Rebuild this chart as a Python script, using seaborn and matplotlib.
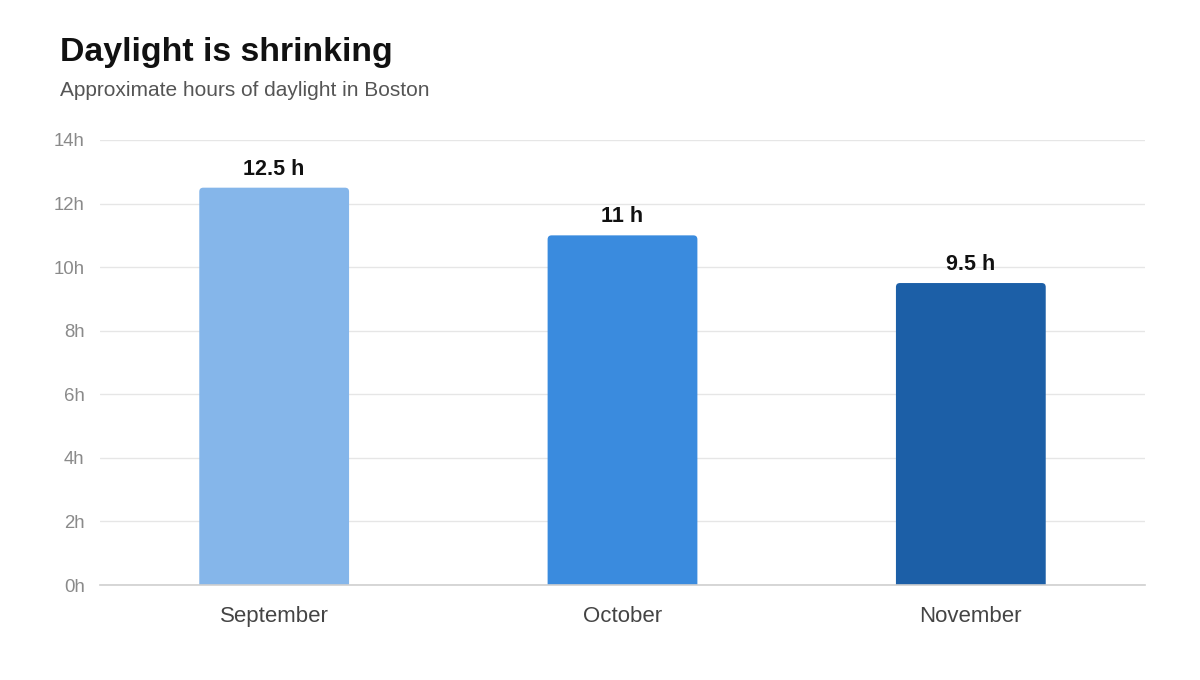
import numpy as np
import pandas as pd
import matplotlib
matplotlib.use("Agg")
import matplotlib.pyplot as plt
import seaborn as sns
from matplotlib.patches import FancyBboxPatch

# hours of daylight in Boston
months = ["September", "October", "November"]
hours = [12.5, 11, 9.5]
value_labels = ["12.5 h", "11 h", "9.5 h"]
bar_colors = ["#85b6ea", "#3a8bde", "#1c5fa7"]
y_ticks = [0, 2, 4, 6, 8, 10, 12, 14]
y_tick_labels = [f"{t}h" for t in y_ticks]

sns.set_theme(style="white")
plt.rcParams["font.family"] = ["Liberation Sans", "DejaVu Sans"]

df = pd.DataFrame({"month": months, "hours": hours})

fig = plt.figure(figsize=(12, 6.8), dpi=100)
ax = fig.add_axes([100 / 1200, 95 / 680, 1045 / 1200, 445 / 680])

sns.barplot(data=df, x="month", y="hours", hue="month", palette=bar_colors,
            saturation=1, width=0.43, legend=False, ax=ax, zorder=3)

ax.set_ylim(0, 14)
ax.set_xlim(-0.5, 2.5)

# swap the plain rectangles for ones with slightly rounded tops
px_x = 1045 / 3.0
px_y = 445 / 14.0
radius_px = 4
for patch in list(ax.patches):
    x, y = patch.get_x(), patch.get_y()
    w, h = patch.get_width(), patch.get_height()
    color = patch.get_facecolor()
    patch.remove()
    r = radius_px / px_x
    rounded = FancyBboxPatch((x, y - 1), w, h + 1,
                             boxstyle=f"round,pad=0,rounding_size={r}",
                             mutation_aspect=px_x / px_y,
                             facecolor=color, edgecolor="none", zorder=3)
    ax.add_patch(rounded)

for i, (v, lab) in enumerate(zip(hours, value_labels)):
    ax.text(i, v + 0.25, lab, ha="center", va="bottom", fontsize=15.5,
            fontweight="bold", color="#111111", zorder=4)

ax.set_yticks(y_ticks)
ax.set_yticklabels(y_tick_labels)
ax.yaxis.grid(True, color="#e6e6e6", linewidth=1, zorder=0)
ax.set_axisbelow(True)
for side in ["top", "right", "left"]:
    ax.spines[side].set_visible(False)
ax.spines["bottom"].set_color("#cfcfcf")
ax.spines["bottom"].set_linewidth(1.2)
ax.spines["bottom"].set_zorder(5)

ax.tick_params(axis="y", length=0, pad=11, labelsize=13.4, labelcolor="#8a8a8a")
ax.tick_params(axis="x", length=0, pad=15, labelsize=16, labelcolor="#444444")
ax.set_xlabel("")
ax.set_ylabel("")

fig.text(60 / 1200, 1 - 53 / 680, "Daylight is shrinking", fontsize=24.4,
         fontweight="bold", color="#111111", va="center", ha="left")
fig.text(60 / 1200, 1 - 91 / 680, "Approximate hours of daylight in Boston",
         fontsize=15, color="#555555", va="center", ha="left")

fig.savefig("out.png", dpi=100, facecolor="white")
